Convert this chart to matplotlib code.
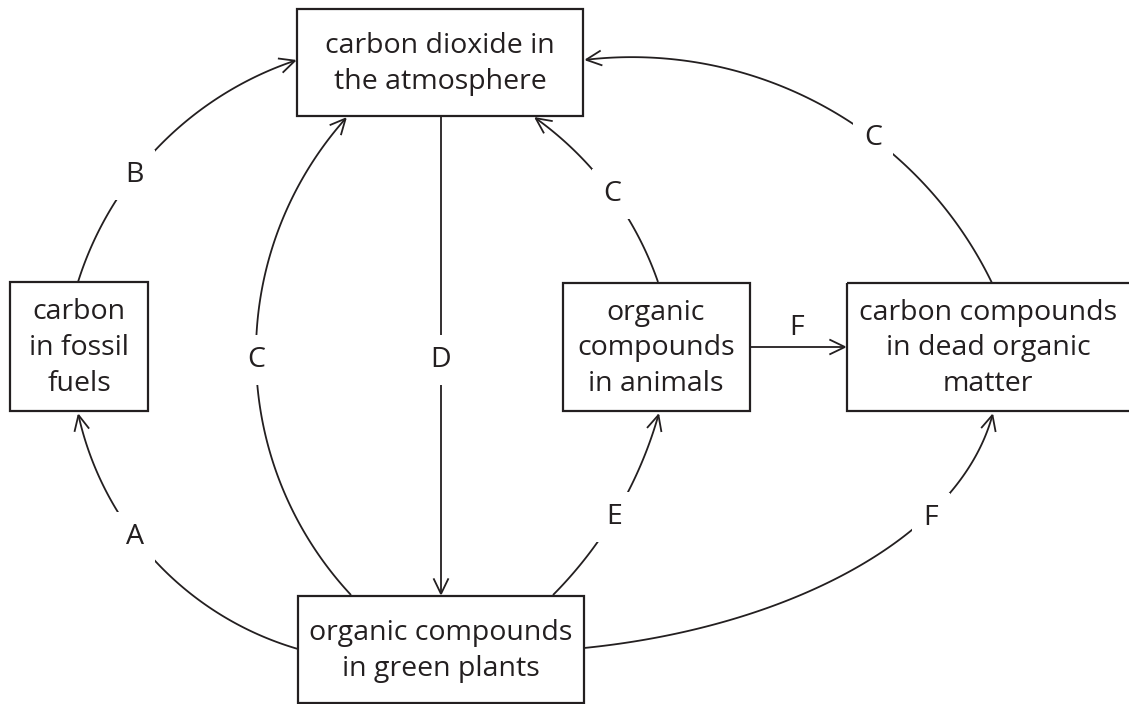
import numpy as np
import matplotlib.pyplot as plt
from matplotlib.patches import Rectangle, FancyArrowPatch
from matplotlib.path import Path

plt.rcParams['font.family'] = ['Open Sans', 'DejaVu Sans']

INK = '#231f20'
W, H = 1129, 704

# boxes: (left, top, right, bottom) in pixels, text
box_edges = [(297, 9, 583, 116), (10, 282, 148, 411), (298, 596, 584, 703),
             (563, 283, 750, 411), (847, 283, 1131, 411)]
box_text_x = [440, 79, 441, 656, 988]
box_texts = ['carbon dioxide in\nthe atmosphere',
             'carbon\nin fossil\nfuels',
             'organic compounds\nin green plants',
             'organic\ncompounds\nin animals',
             'carbon compounds\nin dead organic\nmatter']

# curved arrows drawn as circle arcs: start, point under the label, arrow tip
arc_labels = ['B', 'C', 'C', 'C', 'A', 'E']
arc_starts = [(78, 282), (351, 595), (658, 282), (992, 283), (298, 649), (553, 595)]
arc_vias = [(134, 175), (256, 360), (612, 194), (873, 138), (135, 537), (614, 517)]
arc_ends = [(297, 60), (347, 117), (534, 117), (584, 60), (78, 413), (659, 413)]

# curved arrow drawn as a cubic bezier: plants -> dead matter
bez_label = 'F'
bez_points = [(584, 648), (784, 628), (960, 540), (993, 413)]
bez_label_pos = (931, 518)

# straight arrows
line_labels = ['D', 'F']
line_starts = [(441, 117), (750, 347)]
line_ends = [(441, 596), (847, 347)]
line_label_pos = [(441, 360), (797, 328)]
line_label_gap = [True, False]


def arc_points(p0, pm, p1, n=120):
    (x1, y1), (x2, y2), (x3, y3) = p0, pm, p1
    d = 2 * (x1 * (y2 - y3) + x2 * (y3 - y1) + x3 * (y1 - y2))
    ux = ((x1**2 + y1**2) * (y2 - y3) + (x2**2 + y2**2) * (y3 - y1) + (x3**2 + y3**2) * (y1 - y2)) / d
    uy = ((x1**2 + y1**2) * (x3 - x2) + (x2**2 + y2**2) * (x1 - x3) + (x3**2 + y3**2) * (x2 - x1)) / d
    r = np.hypot(x1 - ux, y1 - uy)
    a0 = np.arctan2(y1 - uy, x1 - ux)
    am = np.arctan2(y2 - uy, x2 - ux)
    a1 = np.arctan2(y3 - uy, x3 - ux)
    span = (a1 - a0) % (2 * np.pi)
    mid = (am - a0) % (2 * np.pi)
    if mid > span:
        span = span - 2 * np.pi
    t = a0 + np.linspace(0, span, n)
    return np.column_stack([ux + r * np.cos(t), uy + r * np.sin(t)])


def bezier_points(ctrl, n=120):
    p = np.array(ctrl, dtype=float)
    t = np.linspace(0, 1, n)[:, None]
    return ((1 - t)**3 * p[0] + 3 * (1 - t)**2 * t * p[1]
            + 3 * (1 - t) * t**2 * p[2] + t**3 * p[3])


fig = plt.figure(figsize=(W / 100, H / 100), dpi=100)
ax = fig.add_axes([0, 0, 1, 1])
ax.set_xlim(0, W)
ax.set_ylim(H, 0)
ax.axis('off')

arrow_kw = dict(arrowstyle='->,head_length=0.56,head_width=0.27', mutation_scale=20,
                color=INK, lw=1.3, capstyle='butt', joinstyle='miter')
label_kw = dict(ha='center', va='center', fontsize=20.5, color=INK,
                bbox=dict(boxstyle='square,pad=0.4', fc='white', ec='none'))

for (l, t, r, b), tx, txt in zip(box_edges, box_text_x, box_texts):
    ax.add_patch(Rectangle((l, t), r - l, b - t, fill=False, ec=INK, lw=1.6, zorder=3))
    ax.text(tx, (t + b) / 2 + 1.5, txt, ha='center', va='center', fontsize=20.5,
            color=INK, linespacing=1.36, zorder=4)

for lab, p0, pm, p1 in zip(arc_labels, arc_starts, arc_vias, arc_ends):
    pts = arc_points(p0, pm, p1)
    ax.add_patch(FancyArrowPatch(path=Path(pts), zorder=1, **arrow_kw))
    ax.text(pm[0], pm[1], lab, zorder=2, **label_kw)

ax.add_patch(FancyArrowPatch(path=Path(bezier_points(bez_points)), zorder=1, **arrow_kw))
ax.text(bez_label_pos[0], bez_label_pos[1], bez_label, zorder=2, **label_kw)

for lab, p0, p1, pos, gap in zip(line_labels, line_starts, line_ends, line_label_pos, line_label_gap):
    ax.add_patch(FancyArrowPatch(path=Path([p0, p1]), zorder=1, **arrow_kw))
    kw = dict(label_kw)
    if not gap:
        kw.pop('bbox')
    ax.text(pos[0], pos[1], lab, zorder=2, **kw)

fig.savefig('out.png', dpi=100, facecolor='white')
